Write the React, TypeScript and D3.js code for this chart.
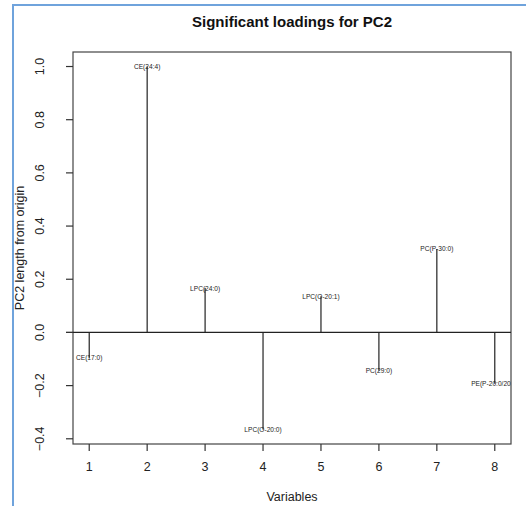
import React from "react";
import * as d3 from "d3";

const variables = [1, 2, 3, 4, 5, 6, 7, 8];
const loadings = [-0.095, 1.0, 0.167, -0.365, 0.136, -0.144, 0.314, -0.193];
const labels = [
  "CE(17:0)",
  "CE(24:4)",
  "LPC(24:0)",
  "LPC(O-20:0)",
  "LPC(O-20:1)",
  "PC(29:0)",
  "PC(P-30:0)",
  "PE(P-20:0/20:4)",
];
const yTicks = [-0.4, -0.2, 0.0, 0.2, 0.4, 0.6, 0.8, 1.0];
const xTicks = [1, 2, 3, 4, 5, 6, 7, 8];

const W = 526;
const H = 506;
const left = 73;
const right = 511;
const top = 52;
const bottom = 444;
const font = "'Liberation Sans', Arial, sans-serif";

export default function App() {
  const x = d3.scaleLinear().domain([0.72, 8.28]).range([left, right]);
  const yMin = d3.min(loadings)!;
  const yMax = d3.max(loadings)!;
  const pad = (yMax - yMin) * 0.04;
  const y = d3.scaleLinear().domain([yMin - pad, yMax + pad]).range([bottom, top]);

  return (
    <svg
      width={W}
      height={H}
      style={{ position: "absolute", left: 0, top: 0, background: "#fff" }}
    >
      <defs>
        <clipPath id="plotclip">
          <rect x={left} y={top} width={right - left} height={bottom - top} />
        </clipPath>
      </defs>
      {/* blue frame */}
      <line x1={13} x2={13} y1={4} y2={H} stroke="#6fa3dc" strokeWidth={2} />
      <line x1={12} x2={W} y1={5} y2={5} stroke="#6fa3dc" strokeWidth={2} />

      <text
        x={(left + right) / 2}
        y={27}
        textAnchor="middle"
        fontFamily={font}
        fontWeight="bold"
        fontSize={15}
        fill="#111"
      >
        Significant loadings for PC2
      </text>

      {/* box */}
      <rect
        x={left}
        y={top}
        width={right - left}
        height={bottom - top}
        fill="none"
        stroke="#444"
        strokeWidth={1.2}
      />

      {/* y axis */}
      {yTicks.map((t) => (
        <g key={"y" + t}>
          <line x1={left - 7} x2={left} y1={y(t)} y2={y(t)} stroke="#333" strokeWidth={1.2} />
          <text
            transform={`translate(${left - 33},${y(t)}) rotate(-90)`}
            textAnchor="middle"
            dominantBaseline="central"
            fontFamily={font}
            fontSize={12.5}
            fill="#222"
          >
            {t === 0 ? "0.0" : (t < 0 ? "\u2212" : "") + Math.abs(t).toFixed(1)}
          </text>
        </g>
      ))}

      {/* x axis */}
      {xTicks.map((t) => (
        <g key={"x" + t}>
          <line x1={x(t)} x2={x(t)} y1={bottom} y2={bottom + 7} stroke="#333" strokeWidth={1.2} />
          <text
            x={x(t)}
            y={bottom + 23}
            textAnchor="middle"
            dominantBaseline="central"
            fontFamily={font}
            fontSize={12.5}
            fill="#222"
          >
            {t}
          </text>
        </g>
      ))}

      <text
        x={(left + right) / 2}
        y={501}
        textAnchor="middle"
        fontFamily={font}
        fontSize={12.5}
        fill="#222"
      >
        Variables
      </text>
      <text
        transform={`translate(24,${(top + bottom) / 2}) rotate(-90)`}
        textAnchor="middle"
        fontFamily={font}
        fontSize={12.5}
        fill="#222"
      >
        PC2 length from origin
      </text>

      <g clipPath="url(#plotclip)">
        <line x1={left - 8} x2={right} y1={y(0)} y2={y(0)} stroke="#222" strokeWidth={1.3} />
        {variables.map((v, i) => (
          <g key={"s" + v}>
            <line
              x1={x(v)}
              x2={x(v)}
              y1={y(0)}
              y2={y(loadings[i])}
              stroke="#222"
              strokeWidth={1.2}
            />
            <text
              x={x(v)}
              y={y(loadings[i])}
              textAnchor="middle"
              dominantBaseline="central"
              fontFamily={font}
              fontSize={6.6}
              fill="#222"
            >
              {labels[i]}
            </text>
          </g>
        ))}
      </g>
      <line x1={left - 7} x2={left} y1={y(0)} y2={y(0)} stroke="#333" strokeWidth={1.2} />
    </svg>
  );
}
